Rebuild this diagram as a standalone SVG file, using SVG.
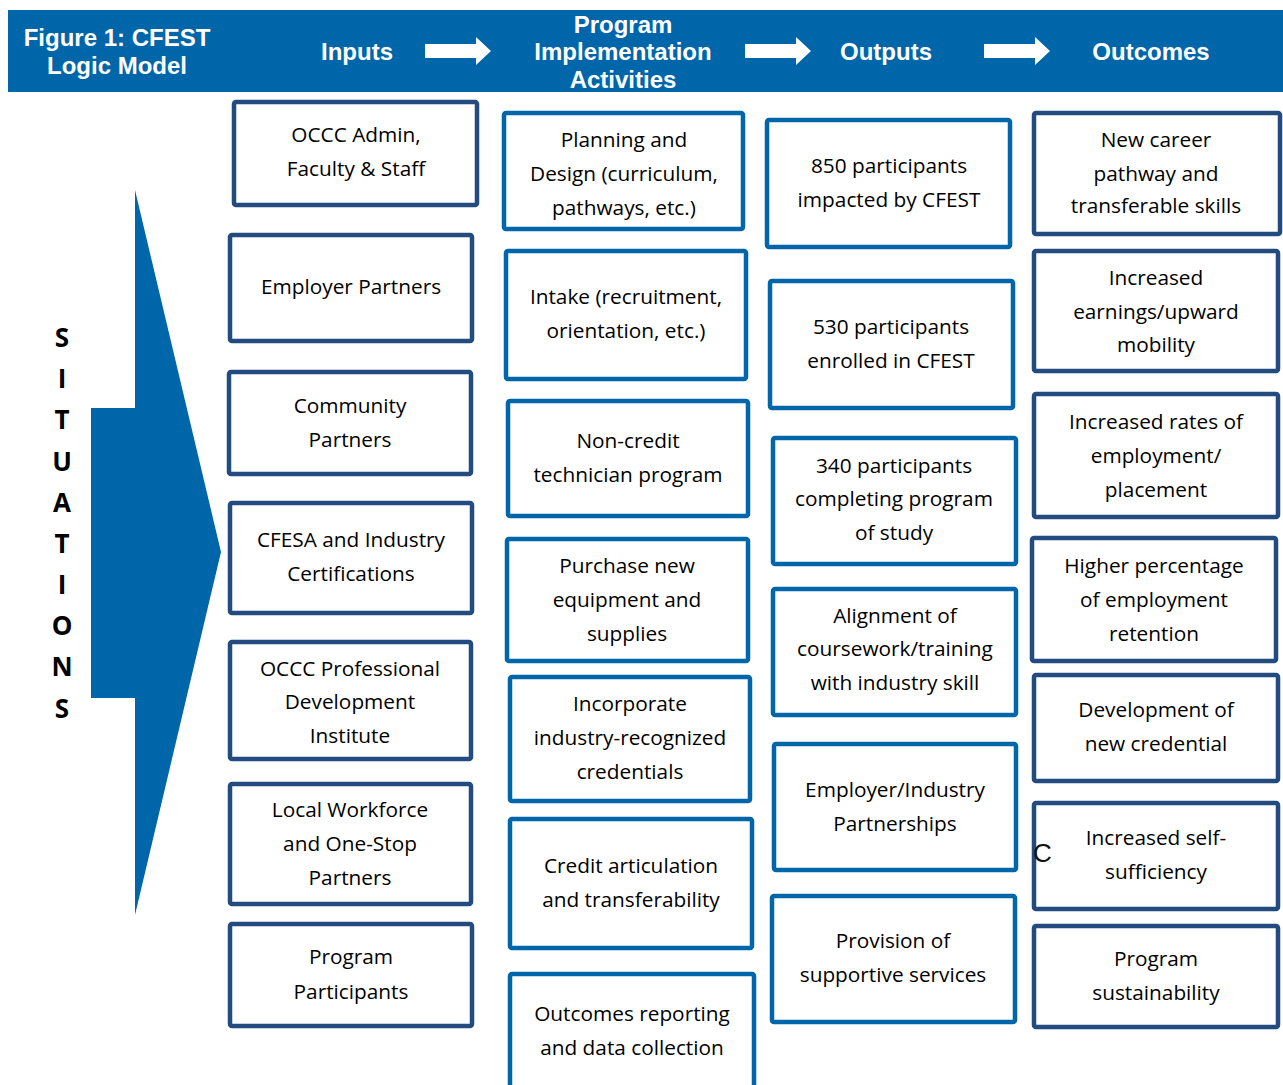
<svg xmlns="http://www.w3.org/2000/svg" width="1283" height="1085" viewBox="0 0 1283 1085">
<style>
.hdr{font-family:"Liberation Sans",Arial,sans-serif;font-weight:bold;font-size:24px;fill:#fff;text-anchor:middle}
.nav{fill:#fff;stroke:#234B7F;stroke-width:4.5}
.blu{fill:#fff;stroke:#0066AA;stroke-width:4.5}
.t{font-family:"Open Sans","Noto Sans",sans-serif;font-size:20.8px;fill:#000;text-anchor:middle}
.sit{font-family:"Open Sans","Noto Sans",sans-serif;font-weight:bold;font-size:26px;fill:#000;text-anchor:middle}
.arr{fill:#fff}
</style>
<rect x="0" y="0" width="1283" height="1085" fill="#fff"/>
<g id="header">
<rect x="8" y="10" width="1275" height="82" fill="#0066AA"/>
<text class="hdr"><tspan x="117" y="46">Figure 1: CFEST</tspan><tspan x="117" y="74">Logic Model</tspan></text>
<text class="hdr" x="357" y="60">Inputs</text>
<text class="hdr"><tspan x="623" y="33">Program</tspan><tspan x="623" y="60">Implementation</tspan><tspan x="623" y="88">Activities</tspan></text>
<text class="hdr" x="886" y="60">Outputs</text>
<text class="hdr" x="1151" y="60">Outcomes</text>
</g>
<g id="connectors">
<polygon class="arr" points="425,44 476,44 476,37 491,51 476,65 476,58 425,58"/>
<polygon class="arr" points="745,44 796,44 796,37 811,51 796,65 796,58 745,58"/>
<polygon class="arr" points="984,44 1035,44 1035,37 1050,51 1035,65 1035,58 984,58"/>
</g>
<g id="situations">
<polygon points="135,190 221,552 135,915 135,698 91,698 91,408 135,408" fill="#0066AA"/>
<text class="sit"><tspan x="62" y="347">S</tspan><tspan x="62" y="388">I</tspan><tspan x="62" y="429">T</tspan><tspan x="62" y="471">U</tspan><tspan x="62" y="512">A</tspan><tspan x="62" y="553">T</tspan><tspan x="62" y="594">I</tspan><tspan x="62" y="635">O</tspan><tspan x="62" y="676">N</tspan><tspan x="62" y="718">S</tspan></text>
</g>
<g id="in1"><rect class="nav" x="234" y="102" width="243" height="103" rx="2"/><text class="t"><tspan x="356" y="142">OCCC Admin,</tspan><tspan x="356" y="176">Faculty &amp; Staff</tspan></text></g>
<g id="in2"><rect class="nav" x="230" y="235" width="242" height="106" rx="2"/><text class="t"><tspan x="351" y="294">Employer Partners</tspan></text></g>
<g id="in3"><rect class="nav" x="229" y="372" width="242" height="102" rx="2"/><text class="t"><tspan x="350" y="413">Community</tspan><tspan x="350" y="447">Partners</tspan></text></g>
<g id="in4"><rect class="nav" x="230" y="503" width="242" height="110" rx="2"/><text class="t"><tspan x="351" y="547">CFESA and Industry</tspan><tspan x="351" y="581">Certifications</tspan></text></g>
<g id="in5"><rect class="nav" x="230" y="642" width="241" height="117" rx="2"/><text class="t"><tspan x="350" y="676">OCCC Professional</tspan><tspan x="350" y="709">Development</tspan><tspan x="350" y="743">Institute</tspan></text></g>
<g id="in6"><rect class="nav" x="230" y="784" width="241" height="120" rx="2"/><text class="t"><tspan x="350" y="817">Local Workforce</tspan><tspan x="350" y="851">and One-Stop</tspan><tspan x="350" y="885">Partners</tspan></text></g>
<g id="in7"><rect class="nav" x="230" y="924" width="242" height="102" rx="2"/><text class="t"><tspan x="351" y="964">Program</tspan><tspan x="351" y="999">Participants</tspan></text></g>
<g id="a1"><rect class="blu" x="504" y="113" width="239" height="116" rx="2"/><text class="t"><tspan x="624" y="147">Planning and</tspan><tspan x="624" y="181">Design (curriculum,</tspan><tspan x="624" y="215">pathways, etc.)</tspan></text></g>
<g id="a2"><rect class="blu" x="506" y="251" width="240" height="128" rx="2"/><text class="t"><tspan x="626" y="304">Intake (recruitment,</tspan><tspan x="626" y="338">orientation, etc.)</tspan></text></g>
<g id="a3"><rect class="blu" x="508" y="401" width="240" height="115" rx="2"/><text class="t"><tspan x="628" y="448">Non-credit</tspan><tspan x="628" y="482">technician program</tspan></text></g>
<g id="a4"><rect class="blu" x="507" y="539" width="241" height="122" rx="2"/><text class="t"><tspan x="627" y="573">Purchase new</tspan><tspan x="627" y="607">equipment and</tspan><tspan x="627" y="641">supplies</tspan></text></g>
<g id="a5"><rect class="blu" x="510" y="677" width="240" height="124" rx="2"/><text class="t"><tspan x="630" y="711">Incorporate</tspan><tspan x="630" y="745">industry-recognized</tspan><tspan x="630" y="779">credentials</tspan></text></g>
<g id="a6"><rect class="blu" x="510" y="819" width="242" height="129" rx="2"/><text class="t"><tspan x="631" y="873">Credit articulation</tspan><tspan x="631" y="907">and transferability</tspan></text></g>
<g id="a7"><rect class="blu" x="510" y="974" width="244" height="130" rx="2"/><text class="t"><tspan x="632" y="1021">Outcomes reporting</tspan><tspan x="632" y="1055">and data collection</tspan></text></g>
<g id="o1"><rect class="blu" x="767" y="120" width="243" height="127" rx="2"/><text class="t"><tspan x="889" y="173">850 participants</tspan><tspan x="889" y="207">impacted by CFEST</tspan></text></g>
<g id="o2"><rect class="blu" x="770" y="281" width="243" height="127" rx="2"/><text class="t"><tspan x="891" y="334">530 participants</tspan><tspan x="891" y="368">enrolled in CFEST</tspan></text></g>
<g id="o3"><rect class="blu" x="773" y="438" width="243" height="126" rx="2"/><text class="t"><tspan x="894" y="473">340 participants</tspan><tspan x="894" y="506">completing program</tspan><tspan x="894" y="540">of study</tspan></text></g>
<g id="o4"><rect class="blu" x="773" y="589" width="243" height="126" rx="2"/><text class="t"><tspan x="895" y="623">Alignment of</tspan><tspan x="895" y="656">coursework/training</tspan><tspan x="895" y="690">with industry skill</tspan></text></g>
<g id="o5"><rect class="blu" x="774" y="744" width="242" height="126" rx="2"/><text class="t"><tspan x="895" y="797">Employer/Industry</tspan><tspan x="895" y="831">Partnerships</tspan></text></g>
<g id="o6"><rect class="blu" x="772" y="896" width="243" height="126" rx="2"/><text class="t"><tspan x="893" y="948">Provision of</tspan><tspan x="893" y="982">supportive services</tspan></text></g>
<g id="c1"><rect class="nav" x="1034" y="113" width="246" height="121" rx="2"/><text class="t"><tspan x="1156" y="147">New career</tspan><tspan x="1156" y="181">pathway and</tspan><tspan x="1156" y="213">transferable skills</tspan></text></g>
<g id="c2"><rect class="nav" x="1034" y="251" width="244" height="120" rx="2"/><text class="t"><tspan x="1156" y="285">Increased</tspan><tspan x="1156" y="319">earnings/upward</tspan><tspan x="1156" y="352">mobility</tspan></text></g>
<g id="c3"><rect class="nav" x="1034" y="394" width="244" height="123" rx="2"/><text class="t"><tspan x="1156" y="429">Increased rates of</tspan><tspan x="1156" y="463">employment/</tspan><tspan x="1156" y="497">placement</tspan></text></g>
<g id="c4"><rect class="nav" x="1032" y="538" width="244" height="123" rx="2"/><text class="t"><tspan x="1154" y="573">Higher percentage</tspan><tspan x="1154" y="607">of employment</tspan><tspan x="1154" y="641">retention</tspan></text></g>
<g id="c5"><rect class="nav" x="1034" y="675" width="244" height="106" rx="2"/><text class="t"><tspan x="1156" y="717">Development of</tspan><tspan x="1156" y="751">new credential</tspan></text></g>
<g id="c6"><rect class="nav" x="1034" y="803" width="244" height="106" rx="2"/><text x="1033" y="862" font-family="Liberation Sans,Arial,sans-serif" font-size="26" fill="#111">C</text><text class="t"><tspan x="1156" y="845">Increased self-</tspan><tspan x="1156" y="879">sufficiency</tspan></text></g>
<g id="c7"><rect class="nav" x="1034" y="926" width="244" height="101" rx="2"/><text class="t"><tspan x="1156" y="966">Program</tspan><tspan x="1156" y="1000">sustainability</tspan></text></g>
</svg>
